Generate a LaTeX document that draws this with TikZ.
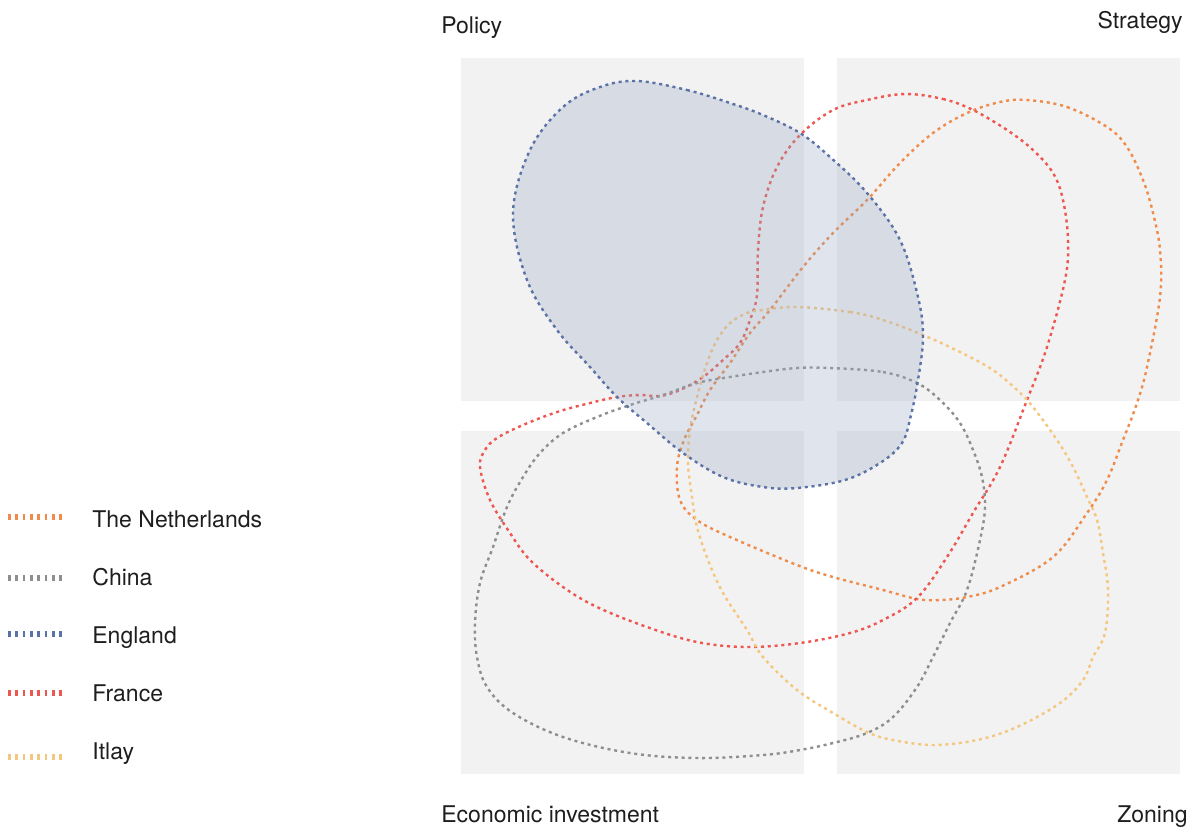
\documentclass[tikz,border=0pt]{standalone}
\usepackage{fontspec}
\setmainfont{TeX Gyre Heros}
\definecolor{cNL}{HTML}{EF8B4B}
\definecolor{cCN}{HTML}{8E8E8E}
\definecolor{cEN}{HTML}{5B72A6}
\definecolor{cFR}{HTML}{EE5650}
\definecolor{cIT}{HTML}{F5C67E}
\definecolor{cBG}{HTML}{F2F2F2}
\definecolor{cENfill}{HTML}{9BA8C2}
\definecolor{cTXT}{HTML}{1E1E1E}
\begin{document}
\begin{tikzpicture}[x=0.5pt,y=-0.5pt,
  quad/.style={fill=cBG,draw=none},
  blob/.style={line width=1.2pt,dash pattern=on 1.5pt off 1.9pt},
  legline/.style={line width=3.2pt,dash pattern=on 1.35pt off 2.3pt},
  lbl/.style={inner sep=0pt,text=cTXT,font=\fontsize{11.5pt}{14pt}\selectfont}]
\useasboundingbox (0,0) rectangle (1197,832);
% quadrants
\fill[quad] (461,58) rectangle (804,401);
\fill[quad] (837,58) rectangle (1180,401);
\fill[quad] (461,431) rectangle (804,774);
\fill[quad] (837,431) rectangle (1180,774);
% corner labels
\node[lbl,anchor=base west] (policy) at (441,33) {Policy};
\node[lbl,anchor=base east] (strategy) at (1183,28) {Strategy};
\node[lbl,anchor=base west] (econ) at (441,822) {Economic investment};
\node[lbl,anchor=base east] (zoning) at (1188,822) {Zoning};
% Netherlands
\draw[blob,cNL] plot[smooth cycle,tension=0.6] coordinates {
 (1027,100) (1067,107) (1107,127) (1127,147) (1143,180) (1153,213) (1160,250)
 (1160,297) (1147,367) (1137,403) (1123,440) (1107,480) (1087,513) (1053,557)
 (1000,587) (967,597) (940,600) (917,599) (883,590) (833,577) (797,565)
 (730,537) (697,520) (680,500) (677,467) (684,440) (697,415) (710,390) (730,363)
 (750,333) (770,310) (803,267) (833,233) (867,200) (900,163) (933,133) (967,113) (1000,102)};
% France
\draw[blob,cFR] plot[smooth cycle,tension=0.6] coordinates {
 (905,94) (943,99) (973,110) (1007,130) (1033,150) (1053,173) (1063,200) (1068,240)
 (1065,280) (1047,347) (1027,400) (1000,467) (973,513) (947,557) (917,598)
 (883,620) (850,633) (800,643) (747,647) (697,642) (647,627) (597,607) (563,587)
 (530,560) (510,533) (490,500) (480,467) (485,450) (497,438) (523,425) (557,412)
 (590,403) (617,397) (640,395) (660,396) (680,390) (703,377) (723,360) (740,343)
 (750,320) (757,295) (758,250) (763,207) (777,167) (800,135) (833,110) (867,100)};
% China
\draw[blob,cCN] plot[smooth cycle,tension=0.6] coordinates {
 (830,368) (883,372) (917,383) (940,400) (960,423) (973,450) (982,477) (985,507)
 (980,540) (967,590) (950,623) (933,657) (917,687) (893,717) (867,733) (833,743)
 (800,750) (763,755) (697,758) (630,753) (563,737) (513,713) (487,687) (477,657)
 (475,623) (480,583) (493,547) (507,507) (523,477) (540,453) (563,433) (597,417)
 (630,405) (663,395) (697,383) (730,377) (763,372) (797,368)};
% Itlay
\draw[blob,cIT] plot[smooth cycle,tension=0.6] coordinates {
 (797,307) (850,312) (883,320) (923,335) (960,352) (993,370) (1017,390) (1033,407)
 (1057,440) (1073,467) (1087,497) (1097,520) (1103,553) (1108,590) (1105,633)
 (1093,657) (1083,680) (1060,703) (1017,727) (977,740) (933,745) (893,740)
 (867,732) (833,713) (797,690) (763,657) (747,630) (723,593) (708,560)
 (697,527) (692,497) (688,463) (690,430) (697,397) (707,363) (717,340) (730,323)
 (747,313) (763,310)};
% England (filled, on top)
\fill[cENfill,opacity=0.31] plot[smooth cycle,tension=0.6] coordinates {
 (637,81) (687,90) (730,103) (763,115) (800,133) (830,157) (867,193) (900,240)
 (918,297) (923,337) (918,380) (911,415) (902,443) (880,463) (845,480) (797,488)
 (763,487) (723,477) (683,453) (647,423) (617,397) (590,367) (557,330) (527,280)
 (513,213) (530,150) (563,107) (600,87)};
\draw[blob,cEN] plot[smooth cycle,tension=0.6] coordinates {
 (637,81) (687,90) (730,103) (763,115) (800,133) (830,157) (867,193) (900,240)
 (918,297) (923,337) (918,380) (911,415) (902,443) (880,463) (845,480) (797,488)
 (763,487) (723,477) (683,453) (647,423) (617,397) (590,367) (557,330) (527,280)
 (513,213) (530,150) (563,107) (600,87)};
% legend
\draw[legline,cNL] (8,517) -- (62,517);
\draw[legline,cCN] (8,578) -- (62,578);
\draw[legline,cEN] (8,634) -- (62,634);
\draw[legline,cFR] (8,693) -- (62,693);
\draw[legline,cIT] (8,757) -- (62,757);
\node[lbl,anchor=base west] (lgNL) at (92,527) {The Netherlands};
\node[lbl,anchor=base west] (lgCN) at (92,585) {China};
\node[lbl,anchor=base west] (lgEN) at (92,643) {England};
\node[lbl,anchor=base west] (lgFR) at (92,701) {France};
\node[lbl,anchor=base west] (lgIT) at (92,759) {Itlay};
\end{tikzpicture}
\end{document}
